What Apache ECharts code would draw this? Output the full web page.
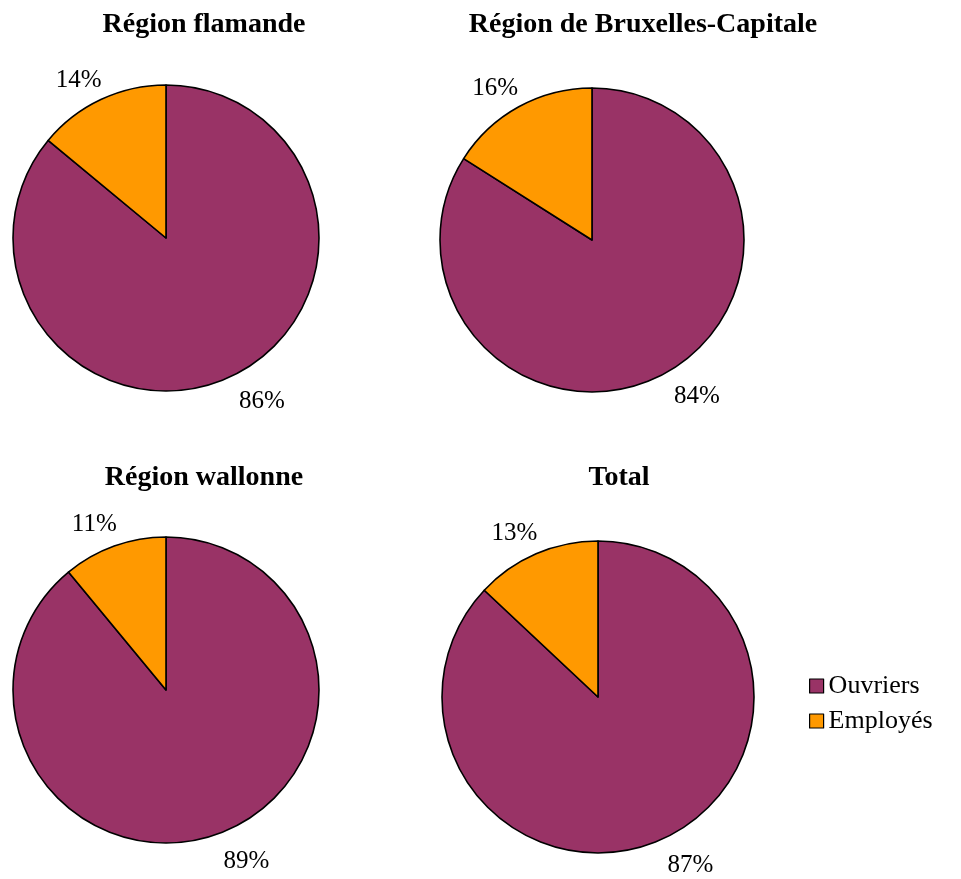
<!DOCTYPE html>
<html>
<head>
<meta charset="utf-8">
<script src="https://cdn.jsdelivr.net/npm/echarts@6/dist/echarts.min.js"></script>
<style>
  html, body { margin: 0; padding: 0; background: #fff; }
  #chart { width: 961px; height: 879px; }
</style>
</head>
<body>
<div id="chart"></div>
<script>
// données
const categories = ["Ouvriers", "Employés"];
const regions = ["Région flamande", "Région de Bruxelles-Capitale", "Région wallonne", "Total"];
const ouvriers = [86, 84, 89, 87];
const employes = [14, 16, 11, 13];

// placement des camemberts
const centers = [[166, 238], [592, 240], [166, 690], [598, 697]];
const radii = [153, 152, 153, 156];
const titlePos = [[199, 6], [638, 6], [199, 459], [614, 459]];

const font = "'Liberation Serif', 'DejaVu Serif', serif";

const myChart = echarts.init(document.getElementById("chart"));

// étiquettes : centrées un peu au-delà du bord, sur l'angle médian de la part
function placeLabel(params) {
  const s = params.seriesIndex;
  const vals = [ouvriers[s], employes[s]];
  const total = vals[0] + vals[1];
  let before = 0;
  for (let k = 0; k < params.dataIndex; k++) before += vals[k];
  const mid = (before + vals[params.dataIndex] / 2) / total;
  // les étiquettes du bas sont un peu plus décalées dans l'original
  const rot = params.dataIndex === 0 ? 6 : 3;
  const a = mid * Math.PI * 2 - (rot * Math.PI) / 180;
  const d = radii[s] + 32;
  return {
    x: centers[s][0] + d * Math.sin(a),
    y: centers[s][1] - d * Math.cos(a) + 5,
    align: "center",
    verticalAlign: "middle",
  };
}

const options = {
  animation: false,
  color: ["#993366", "#FF9900"],
  title: regions.map((r, i) => ({
    text: r,
    left: titlePos[i][0],
    top: titlePos[i][1],
    textAlign: "center",
    textStyle: { fontFamily: font, fontSize: 28, fontWeight: "bold", color: "#000" },
  })),
  legend: {
    orient: "vertical",
    left: 804,
    top: 668,
    itemWidth: 14,
    itemHeight: 14,
    itemGap: 9,
    icon: "rect",
    data: categories,
    itemStyle: { borderColor: "#000", borderWidth: 1.2 },
    textStyle: { fontFamily: font, fontSize: 26, color: "#000" },
  },
  series: regions.map((r, i) => ({
    type: "pie",
    name: r,
    center: centers[i],
    radius: radii[i],
    startAngle: 90,
    clockwise: true,
    avoidLabelOverlap: false,
    itemStyle: { borderColor: "#000", borderWidth: 1.6 },
    emphasis: { disabled: true },
    label: {
      show: true,
      position: "outside",
      formatter: "{c}%",
      fontFamily: font,
      fontSize: 25,
      color: "#000",
    },
    labelLine: { show: false },
    labelLayout: placeLabel,
    data: [
      { name: categories[0], value: ouvriers[i] },
      { name: categories[1], value: employes[i] },
    ],
  })),
};

myChart.setOption(options);
</script>
</body>
</html>
